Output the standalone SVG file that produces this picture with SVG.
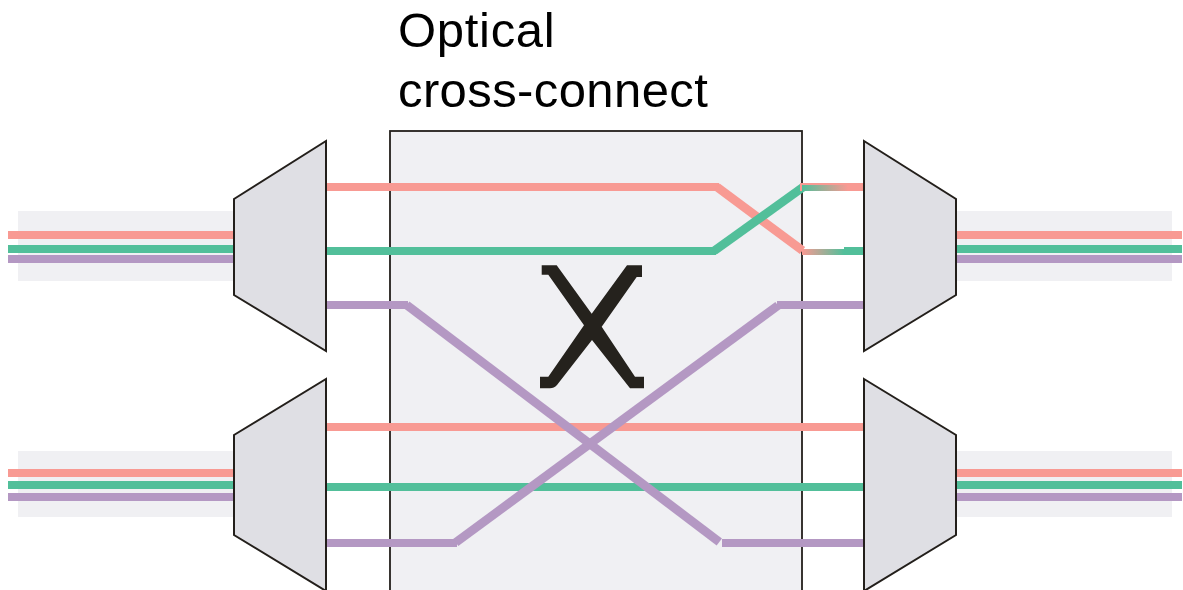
<svg xmlns="http://www.w3.org/2000/svg" width="1183" height="590" viewBox="0 0 1183 590">
<style>
.band{fill:#f0f0f3}
.trap{fill:#dfdfe4;stroke:#231f1b;stroke-width:2;stroke-linejoin:miter}
.r{stroke:#f89a93;stroke-width:8;fill:none}
.g{stroke:#52bf9a;stroke-width:8;fill:none}
.p{stroke:#b498c3;stroke-width:8;fill:none}
.d{stroke-width:8.800}
text{font-family:"Liberation Sans",Arial,sans-serif;font-size:49px;letter-spacing:.4px;fill:#000}
</style>
<defs>
<linearGradient id="gr" x1="0" x2="1" y1="0" y2="0"><stop offset="0" stop-color="#52bf9a"/><stop offset="1" stop-color="#f89a93"/></linearGradient>
<linearGradient id="rg" x1="0" x2="1" y1="0" y2="0"><stop offset="0" stop-color="#f89a93"/><stop offset="1" stop-color="#52bf9a"/></linearGradient>
</defs>
<rect width="1183" height="590" fill="#fff"/>
<g id="label"><text x="398" y="47" style="letter-spacing:.7px">Optical</text><text x="398" y="107">cross-connect</text></g>
<g id="cross-connect">
<rect x="390" y="131" width="412" height="470" fill="#f0f0f3" stroke="#231f1b" stroke-width="1.8"/>
<path fill="#25221d" d="M541.700 265.300H556.700L591.700 313.700L627 265.300H642V277H636.700L601.700 326.700L635 376.700H644V388.300H630L592 340L557 385Q554 388.300 550 388.300H540V376.700H548.300L584 325.300L548.300 274.700H541.700Z"/>
</g>
<g id="bands">
<rect class="band" x="18" y="211" width="216" height="70"/>
<rect class="band" x="18" y="451" width="216" height="66"/>
<rect class="band" x="956" y="211" width="216" height="70"/>
<rect class="band" x="956" y="451" width="216" height="66"/>
</g>
<g id="connectors">
<path class="r" d="M8 235H234M956 235H1182M8 473H234M956 473H1182"/>
<path class="g" d="M8 249H234M956 249H1182M8 485H234M956 485H1182"/>
<path class="p" d="M8 259H234M956 259H1182M8 497H234M956 497H1182"/>
<path class="r" d="M326 427H864"/>
<path class="g" d="M326 487H864"/>
<path class="p" d="M326 305H408"/>
<path class="p d" d="M406.700 305L719.300 542"/>
<path class="p" d="M722 543H864"/>
<path class="p" d="M326 543H457"/>
<path class="p d" d="M455.700 542.500L778 305.500"/>
<path class="p" d="M777 305H864"/>
<path class="r" d="M326 187H719"/>
<path class="r d" d="M717 187L802.500 250.500"/>
<path class="g" d="M326 251H716"/>
<path class="g d" d="M714 251L802.500 187.500"/>
<rect x="800" y="183" width="64" height="8" fill="#f89a93"/>
<rect x="802" y="185" width="46" height="6" fill="url(#gr)"/>
<rect x="802" y="249" width="42" height="6" fill="url(#rg)"/>
<rect x="844" y="247" width="20" height="8" fill="#52bf9a"/>
</g>
<g id="mux-top-left"><path class="trap" d="M234 199L326 141V351L234 295Z"/></g>
<g id="mux-bottom-left"><path class="trap" d="M234 435L326 379V591L234 535Z"/></g>
<g id="mux-top-right"><path class="trap" d="M864 141L956 199V295L864 351Z"/></g>
<g id="mux-bottom-right"><path class="trap" d="M864 379L956 435V535L864 591Z"/></g>
</svg>
